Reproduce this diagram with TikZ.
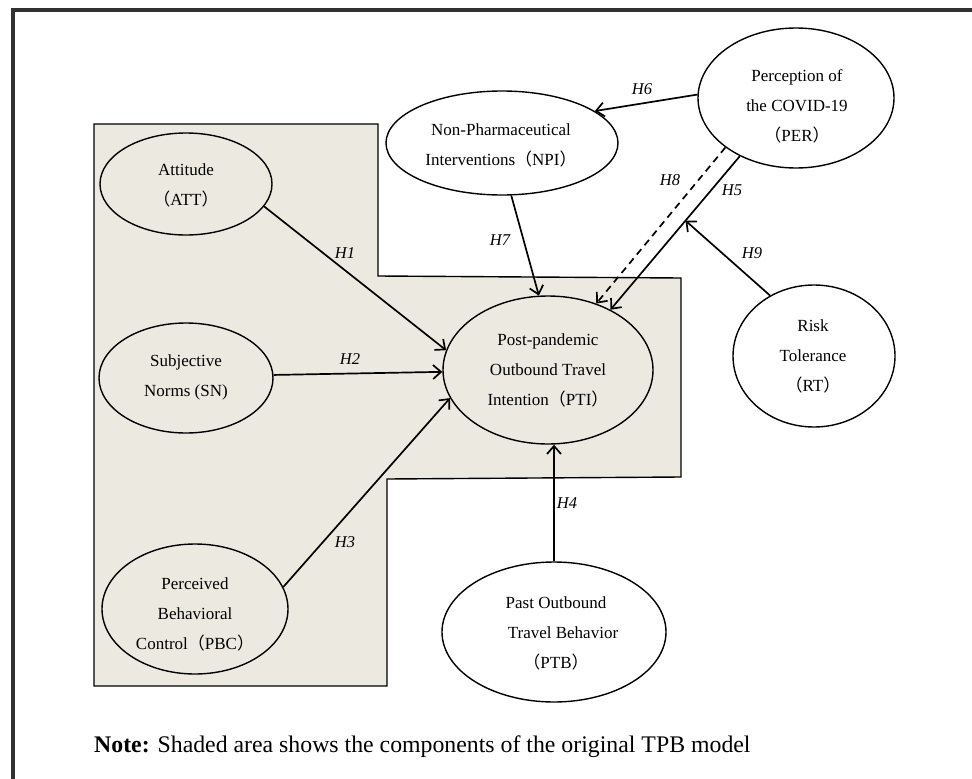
\documentclass[tikz,border=0pt]{standalone}
\usepackage{fontspec}
\setmainfont{Liberation Serif}
\newfontfamily\cjk{Noto Sans CJK SC}
\usetikzlibrary{arrows.meta,shapes.geometric}
\newcommand{\fwl}{{\cjk （}}
\newcommand{\fwr}{{\cjk ）}}
\definecolor{shadefill}{RGB}{236,234,224}
\definecolor{framecol}{RGB}{50,50,50}
\begin{document}
\begin{tikzpicture}[x=1pt,y=-1pt,
  ell/.style={draw, ellipse, line width=1.4pt, inner sep=0pt},
  txt/.style={align=center, inner sep=0pt, font=\fontsize{17}{30}\selectfont},
  hl/.style={inner sep=0pt, font=\fontsize{16.5}{16}\selectfont\itshape},
  conn/.style={line width=1.7pt, -{Straight Barb[length=8pt,width=14pt]}},
  dconn/.style={conn, dash pattern=on 7pt off 5pt}]
\useasboundingbox (0,0) rectangle (972,779);
% frame
\draw[line width=3.5pt, framecol] (13,779) -- (13,10) -- (972,10);
% shaded TPB area
\draw[fill=shadefill, line width=1.4pt] (94,124) -- (378,124) -- (378,276) -- (681,278) -- (681,477) -- (387,479) -- (387,686) -- (94,686) -- cycle;
% ellipses
\node[ell, minimum width=172pt, minimum height=102pt] (att) at (186,184) {};
\node[ell, minimum width=174pt, minimum height=110pt] (sn) at (186,378) {};
\node[ell, minimum width=186pt, minimum height=130pt] (pbc) at (195,609) {};
\node[ell, minimum width=210pt, minimum height=148pt] (pti) at (548,370) {};
\node[ell, minimum width=232pt, minimum height=104pt] (npi) at (502,143) {};
\node[ell, minimum width=196pt, minimum height=140pt] (per) at (796,98) {};
\node[ell, minimum width=162pt, minimum height=142pt] (rt) at (814,356) {};
\node[ell, minimum width=224pt, minimum height=140pt] (ptb) at (554,632) {};
% texts
\node[txt] (attT) at (186,185) {Attitude\\\fwl ATT\fwr};
\node[txt] (snT) at (186,377) {Subjective\\Norms (SN)};
\node[txt] (pbcT) at (195,614) {Perceived\\Behavioral\\Control\fwl PBC\fwr};
\node[txt] (ptiT) at (548,370) {Post-pandemic\\Outbound Travel\\Intention\fwl PTI\fwr};
\node[txt] (npiT) at (501,145) {Non-Pharmaceutical\\Interventions\fwl NPI\fwr};
\node[txt] (perT) at (797,106) {Perception of\\the COVID-19\\\fwl PER\fwr};
\node[txt] (rtT) at (813,356) {Risk\\Tolerance\\\fwl RT\fwr};
\node[txt] (ptbT) at (556,633) {Past Outbound\\\hspace*{14pt}Travel Behavior\\\fwl PTB\fwr};
% connectors
\draw[conn] (att.-16.6) -- (pti.169.4);
\draw[conn] (sn.2.6) -- (pti.181.6);
\draw[conn] (pbc.14.6) -- (pti.196.5);
\draw[conn] (ptb.north) -- (ptb.north |- pti.south);
\draw[conn] (per.-134) -- (pti.44) coordinate[pos=0.42] (h5mid);
\draw[dconn] (per.-145.6) -- (pti.54.5);
\draw[conn] (rt.126) -- (h5mid);
\draw[conn] (per.178) -- (npi.19.6);
\draw[conn] (npi.-80) -- (pti.97.6);
% labels
\node[hl] (l1) at (345,253) {H1};
\node[hl] (l2) at (350,359) {H2};
\node[hl] (l3) at (345,542) {H3};
\node[hl] (l4) at (567,503) {H4};
\node[hl] (l5) at (732,190) {H5};
\node[hl] (l6) at (642,89) {H6};
\node[hl] (l7) at (500,240) {H7};
\node[hl] (l8) at (670,180) {H8};
\node[hl] (l9) at (752,253) {H9};
% note
\node[anchor=west, inner sep=0pt, font=\fontsize{23.8}{28}\selectfont] (note) at (94,747) {\textbf{Note:} Shaded area shows the components of the original TPB model};
\end{tikzpicture}
\end{document}
